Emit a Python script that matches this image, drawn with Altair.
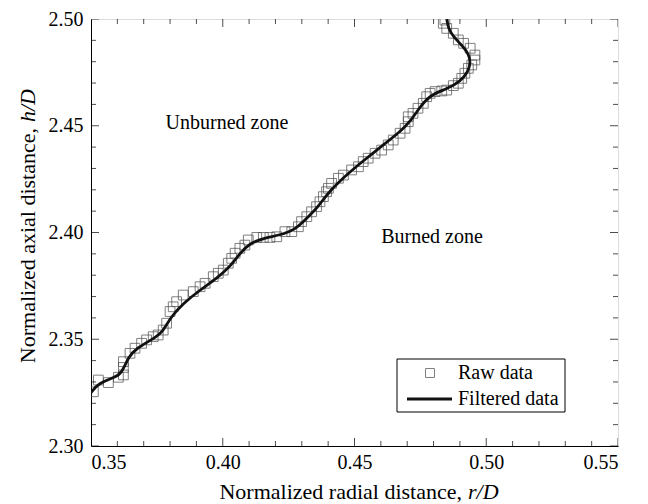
import altair as alt
import pandas as pd

# Raw (pixel-staircase) flame-front points, r/D and h/D
raw_r = [0.3509, 0.3528, 0.3566, 0.3604, 0.3623, 0.3623, 0.3623, 0.3648, 0.3667, 0.3692,
         0.3711, 0.3736, 0.3755, 0.3774, 0.3787, 0.3800, 0.3812, 0.3825, 0.3850, 0.3888,
         0.3914, 0.3933, 0.3964, 0.3983, 0.4002, 0.4021, 0.4034, 0.4047, 0.4065, 0.4084,
         0.4097, 0.4129, 0.4154, 0.4179, 0.4205, 0.4236, 0.4262, 0.4287, 0.4299, 0.4319,
         0.4337, 0.4356, 0.4369, 0.4382, 0.4394, 0.4401, 0.4413, 0.4439, 0.4458, 0.4489,
         0.4515, 0.4533, 0.4552, 0.4578, 0.4603, 0.4628, 0.4647, 0.4673, 0.4692, 0.4704,
         0.4704, 0.4722, 0.4741, 0.4761, 0.4774, 0.4787, 0.4806, 0.4831, 0.4850, 0.4875,
         0.4894, 0.4907, 0.4919, 0.4932, 0.4945, 0.4957, 0.4957, 0.4939, 0.4914, 0.4894,
         0.4875, 0.4850, 0.4837, 0.4843]
raw_h = [2.3254, 2.3309, 2.3297, 2.3322, 2.3333, 2.3368, 2.3395, 2.3434, 2.3458, 2.3481,
         2.3497, 2.3512, 2.3520, 2.3543, 2.3575, 2.3630, 2.3652, 2.3676, 2.3707, 2.3723,
         2.3746, 2.3762, 2.3793, 2.3809, 2.3824, 2.3856, 2.3879, 2.3903, 2.3926, 2.3941,
         2.3965, 2.3977, 2.3977, 2.3977, 2.3980, 2.4004, 2.4004, 2.4027, 2.4051, 2.4074,
         2.4097, 2.4121, 2.4144, 2.4168, 2.4191, 2.4207, 2.4230, 2.4254, 2.4269, 2.4293,
         2.4308, 2.4332, 2.4348, 2.4371, 2.4386, 2.4410, 2.4433, 2.4465, 2.4488, 2.4519,
         2.4542, 2.4558, 2.4582, 2.4605, 2.4636, 2.4652, 2.4660, 2.4663, 2.4667, 2.4688,
         2.4699, 2.4722, 2.4746, 2.4769, 2.4785, 2.4808, 2.4831, 2.4863, 2.4886, 2.4902,
         2.4933, 2.4956, 2.4980, 2.4995]

# Filtered flame front
filt_r = [0.3500, 0.3528, 0.3591, 0.3617, 0.3642, 0.3673, 0.3730, 0.3774, 0.3800, 0.3850,
          0.3914, 0.3977, 0.4028, 0.4065, 0.4103, 0.4154, 0.4217, 0.4274, 0.4319, 0.4363,
          0.4401, 0.4483, 0.4546, 0.4609, 0.4673, 0.4711, 0.4749, 0.4787, 0.4850, 0.4900,
          0.4932, 0.4941, 0.4932, 0.4907, 0.4875, 0.4856, 0.4850]
filt_h = [2.3250, 2.3294, 2.3322, 2.3341, 2.3418, 2.3458, 2.3497, 2.3535, 2.3600, 2.3668,
          2.3731, 2.3785, 2.3840, 2.3903, 2.3950, 2.3973, 2.3988, 2.4012, 2.4067, 2.4121,
          2.4190, 2.4285, 2.4348, 2.4410, 2.4472, 2.4519, 2.4589, 2.4644, 2.4672, 2.4706,
          2.4753, 2.4800, 2.4839, 2.4878, 2.4917, 2.4956, 2.5000]

x_major = [0.35, 0.40, 0.45, 0.50, 0.55]
x_minor = [0.36, 0.37, 0.38, 0.39, 0.41, 0.42, 0.43, 0.44, 0.46, 0.47, 0.48, 0.49,
           0.51, 0.52, 0.53, 0.54]
y_major = [2.30, 2.35, 2.40, 2.45, 2.50]
y_minor = [2.31, 2.32, 2.33, 2.34, 2.36, 2.37, 2.38, 2.39, 2.41, 2.42, 2.43, 2.44,
           2.46, 2.47, 2.48, 2.49]

zone_labels = ["Unburned zone", "Burned zone"]
zone_r = [0.4016, 0.4794]
zone_h = [2.4513, 2.3979]

x_title_main, x_title_ital = "Normalized radial distance,", "r/D"
y_title_main, y_title_ital = "Normalized axial distance,", "h/D"
legend_labels = ["Raw data", "Filtered data"]

W, H = 527, 427
FONT = "Liberation Serif"
FS = 20
TFS = 22

raw_df = pd.DataFrame({"r": raw_r, "h": raw_h})
filt_df = pd.DataFrame({"r": filt_r, "h": filt_h, "i": list(range(len(filt_r)))})
zone_df = pd.DataFrame({"label": zone_labels, "r": zone_r, "h": zone_h})

xs = alt.Scale(domain=[0.35, 0.55], nice=False, zero=False)
ys = alt.Scale(domain=[2.30, 2.50], nice=False, zero=False)

x_axis = alt.Axis(values=x_major, format=".2f", ticks=False, grid=False,
                  labelFont=FONT, labelFontSize=FS, labelColor="black", labelPadding=6,
                  domainColor="black", title="")
y_axis = alt.Axis(values=y_major, format=".2f", ticks=False, grid=False,
                  labelFont=FONT, labelFontSize=FS, labelColor="black", labelPadding=8,
                  domainColor="black", title="")

raw = alt.Chart(raw_df).mark_point(shape="square", filled=False, size=95,
                                   color="#4a4a4a", strokeWidth=1, clip=True).encode(
    x=alt.X("r:Q", scale=xs, axis=x_axis),
    y=alt.Y("h:Q", scale=ys, axis=y_axis),
)

line = alt.Chart(filt_df).mark_line(color="#111111", strokeWidth=2.8,
                                    interpolate="basis", clip=True).encode(
    x=alt.X("r:Q", scale=xs),
    y=alt.Y("h:Q", scale=ys),
    order="i:Q",
)

zones = alt.Chart(zone_df).mark_text(font=FONT, fontSize=FS, color="black").encode(
    x=alt.X("r:Q", scale=xs),
    y=alt.Y("h:Q", scale=ys),
    text="label:N",
)

def xticks(vals, size, ypix):
    return alt.Chart(pd.DataFrame({"v": vals})).mark_tick(
        orient="vertical", size=size, thickness=1, color="black", clip=True).encode(
        x=alt.X("v:Q", scale=xs), y=alt.value(ypix))

def yticks(vals, size, xpix):
    return alt.Chart(pd.DataFrame({"v": vals})).mark_tick(
        orient="horizontal", size=size, thickness=1, color="black", clip=True).encode(
        y=alt.Y("v:Q", scale=ys), x=alt.value(xpix))

ticks = [
    xticks(x_major, 16, H), xticks(x_minor, 10, H),
    xticks(x_major, 16, 0), xticks(x_minor, 10, 0),
    yticks(y_major, 16, 0), yticks(y_minor, 10, 0),
    yticks(y_major, 16, W), yticks(y_minor, 10, W),
]

one = alt.Data(values=[{"a": 1}])

# axis titles with italic ratio part (a word space between the two pieces)
xt1 = alt.Chart(one).mark_text(text=x_title_main, font=FONT, fontSize=TFS, color="black",
                               align="right", baseline="middle").encode(
    x=alt.value(371), y=alt.value(473))
xt2 = alt.Chart(one).mark_text(text=x_title_ital, font=FONT, fontSize=TFS, color="black",
                               fontStyle="italic", align="left", baseline="middle").encode(
    x=alt.value(377), y=alt.value(473))
yt1 = alt.Chart(one).mark_text(text=y_title_main, font=FONT, fontSize=TFS, color="black",
                               angle=270, align="right", baseline="middle").encode(
    x=alt.value(-63), y=alt.value(109))
yt2 = alt.Chart(one).mark_text(text=y_title_ital, font=FONT, fontSize=TFS, color="black",
                               fontStyle="italic", angle=270, align="left",
                               baseline="middle").encode(
    x=alt.value(-63), y=alt.value(103))

leg_box = alt.Chart(one).mark_rect(fill="white", stroke="black", strokeWidth=1).encode(
    x=alt.value(306), x2=alt.value(474), y=alt.value(340), y2=alt.value(393))
leg_sq = alt.Chart(one).mark_point(shape="square", filled=False, size=80,
                                   color="#4a4a4a", strokeWidth=1).encode(
    x=alt.value(339), y=alt.value(354))
leg_ln = alt.Chart(one).mark_rule(color="#111111", strokeWidth=2.8).encode(
    x=alt.value(316), x2=alt.value(361), y=alt.value(380))
leg_t1 = alt.Chart(one).mark_text(text=legend_labels[0], font=FONT, fontSize=FS, color="black",
                                  align="left", baseline="middle").encode(
    x=alt.value(367), y=alt.value(354))
leg_t2 = alt.Chart(one).mark_text(text=legend_labels[1], font=FONT, fontSize=FS, color="black",
                                  align="left", baseline="middle").encode(
    x=alt.value(367), y=alt.value(380))

chart = alt.layer(raw, line, zones, *ticks, xt1, xt2, yt1, yt2,
                  leg_box, leg_sq, leg_ln, leg_t1, leg_t2).properties(
    width=W, height=H,
    autosize=alt.AutoSizeParams(type="none"),
    padding={"left": 91, "top": 19, "right": 30, "bottom": 58},
).configure_view(stroke="black", strokeWidth=1).configure(background="white")

chart.save("out.html", embed_options={"renderer": "svg", "actions": False})
